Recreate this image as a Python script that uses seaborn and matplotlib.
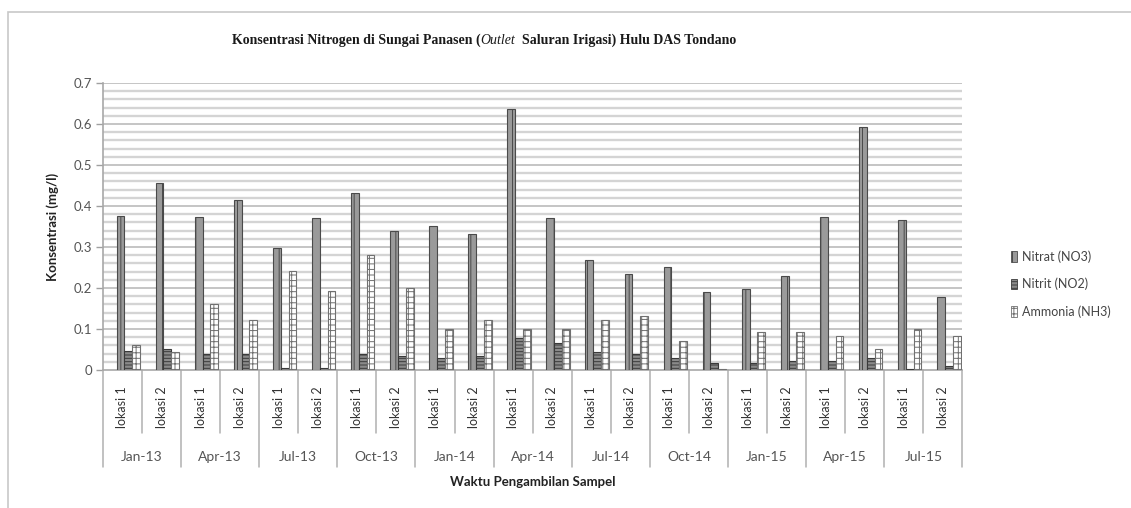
import numpy as np
import pandas as pd
import seaborn as sns
import matplotlib
matplotlib.use("Agg")
import matplotlib.pyplot as plt
import matplotlib.transforms as mtransforms
from matplotlib.patches import Rectangle, Patch
from matplotlib.offsetbox import TextArea, HPacker, AnnotationBbox

months = ["Jan-13", "Apr-13", "Jul-13", "Oct-13", "Jan-14", "Apr-14",
          "Jul-14", "Oct-14", "Jan-15", "Apr-15", "Jul-15"]
lokasi = ["lokasi 1", "lokasi 2"]

nitrat = [0.375, 0.455, 0.372, 0.415, 0.298, 0.371, 0.432, 0.338, 0.352, 0.331, 0.637,
          0.371, 0.268, 0.233, 0.250, 0.190, 0.197, 0.228, 0.372, 0.592, 0.366, 0.178]
nitrit = [0.046, 0.052, 0.040, 0.040, 0.004, 0.004, 0.040, 0.033, 0.030, 0.035, 0.078,
          0.065, 0.043, 0.038, 0.030, 0.018, 0.018, 0.022, 0.022, 0.030, 0.002, 0.010]
ammonia = [0.062, 0.043, 0.162, 0.121, 0.241, 0.192, 0.281, 0.200, 0.100, 0.121, 0.100,
           0.100, 0.121, 0.131, 0.071, 0.003, 0.092, 0.092, 0.082, 0.052, 0.100, 0.082]

series = ["Nitrat (NO3)", "Nitrit (NO2)", "Ammonia (NH3)"]

keys = [f"{m}|{l}" for m in months for l in lokasi]
df = pd.DataFrame({
    "key": keys * 3,
    "Parameter": np.repeat(series, len(keys)),
    "Konsentrasi": nitrat + nitrit + ammonia,
})

sns.set_theme(style="white")
plt.rcParams["font.family"] = ["Lato", "DejaVu Sans"]
plt.rcParams["hatch.linewidth"] = 0.7

fig = plt.figure(figsize=(11.31, 5.08), dpi=100)
ax = fig.add_axes([0.091, 0.2717, 0.760, 0.565])

# chart frame
fig.patches.append(Rectangle((8 / 1131, -0.05), 1.1, 1 - 12 / 508 + 0.05,
                             transform=fig.transFigure, fill=False,
                             edgecolor="#c8c8c8", linewidth=1.2))

# background gridlines (back wall)
for v in np.arange(0.02, 0.705, 0.02):
    major = abs(v * 10 - round(v * 10)) < 1e-6
    ax.axhline(v, color="#b5b5b5" if major else "#d4d4d4",
               linewidth=1.1 if major else 1.7, zorder=0)

shift = 0.15
sns.barplot(data=df, x="key", y="Konsentrasi", hue="Parameter", order=keys,
            hue_order=series, width=0.6, gap=0.0, ax=ax, legend=False,
            saturation=1, zorder=3)

styles = [("#9a9a9a", "#4a4a4a", "||"),
          ("#8a8a8a", "#3a3a3a", "-----"),
          ("#ffffff", "#707070", "+++")]
for cont, (fc, ec, h) in zip(ax.containers, styles):
    for p in cont:
        p.set_facecolor(fc)
        p.set_edgecolor(ec)
        p.set_hatch(h)
        p.set_linewidth(0.8)

ax.set_xlim(-0.5 - shift, len(keys) - 0.5 - shift)
ax.set_ylim(0, 0.7)
ax.set_yticks(np.arange(0, 0.71, 0.1))
ax.set_yticklabels(["0"] + [f"{v:.1f}" for v in np.arange(0.1, 0.71, 0.1)],
                   fontsize=9.5, color="#555555")
ax.tick_params(axis="y", length=5, width=1, color="#a0a0a0", left=True, pad=3)
ax.set_xticks([])
ax.set_xlabel("")
ax.set_ylabel("Konsentrasi (mg/l)", fontsize=9.5, fontweight="bold",
              color="#222222", labelpad=10)

for s in ["top", "right"]:
    ax.spines[s].set_visible(False)
for s in ["left", "bottom"]:
    ax.spines[s].set_color("#a8a8a8")
    ax.spines[s].set_linewidth(1.2)

# category axis: lokasi labels, month labels, separators
tr = mtransforms.blended_transform_factory(ax.transData, ax.transAxes)
for i, k in enumerate(keys):
    m, l = k.split("|")
    ax.text(i - shift, -0.128, l, transform=tr, rotation=90, ha="center",
            va="center", fontsize=9, color="#333333")
for j, m in enumerate(months):
    ax.text(2 * j + 0.5 - shift, -0.303, m, transform=tr, ha="center",
            va="center", fontsize=10, color="#555555")
for i in range(len(keys) + 1):
    x = i - 0.5 - shift
    low = -0.338 if i % 2 == 0 else -0.22
    ax.plot([x, x], [0, low], transform=tr, color="#b0b0b0", linewidth=1.1,
            clip_on=False)
ax.text(0.5, -0.39, "Waktu Pengambilan Sampel", transform=ax.transAxes,
        ha="center", va="center", fontsize=9.5, fontweight="bold",
        color="#222222")

# title with italic part
tkw = dict(fontfamily="Liberation Serif", fontweight="bold", fontsize=10,
           color="#1a1a1a")
parts = [TextArea("Konsentrasi Nitrogen di Sungai Panasen (", textprops=tkw),
         TextArea("Outlet", textprops=dict(tkw, fontstyle="italic",
                                           fontweight="normal")),
         TextArea("  Saluran Irigasi) Hulu DAS Tondano", textprops=tkw)]
box = HPacker(children=parts, pad=0, sep=0, align="baseline")
fig.add_artist(AnnotationBbox(box, (0.428, 0.921), xycoords="figure fraction",
                              frameon=False, box_alignment=(0.5, 0.5)))

# legend
handles = [Patch(facecolor=fc, edgecolor=ec, hatch=h, linewidth=0.6)
           for fc, ec, h in styles]
fig.legend(handles, series, loc="center left",
           bbox_to_anchor=(1000 / 1131, 1 - 284 / 508), frameon=False,
           fontsize=9, handlelength=0.45, handleheight=0.9, handletextpad=0.4,
           labelspacing=1.2, labelcolor="#444444")

fig.savefig("out.png", dpi=100)
